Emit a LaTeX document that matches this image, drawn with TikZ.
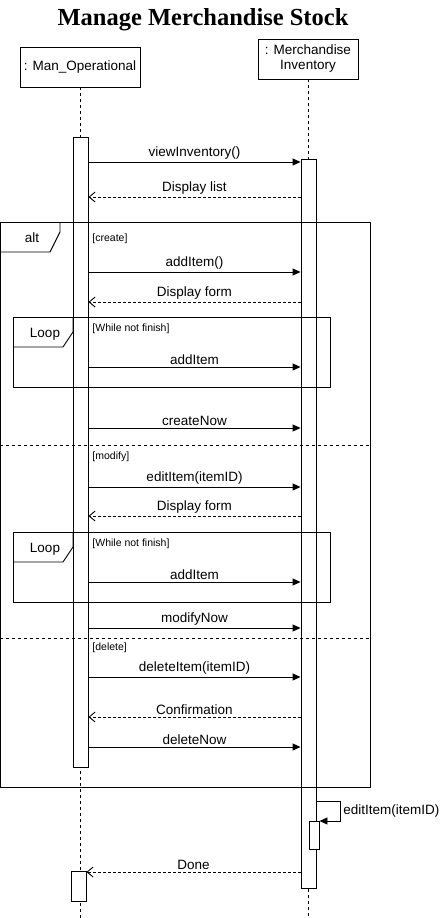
\documentclass[tikz,border=0pt]{standalone}
\usepackage{fontspec}
\setmainfont{Liberation Sans}
\newfontfamily\titlefont{Liberation Serif}
\usepackage{tikz}
\usetikzlibrary{arrows.meta}
\tikzset{actor/.style={draw,minimum height=40pt,inner sep=1pt,font=\fontsize{13.5}{15}\selectfont},
 lifeline/.style={dash pattern=on 3pt off 3pt},
 actbar/.style={draw,fill=white,minimum width=15pt,inner sep=0pt},
 call/.style={-{Triangle[length=8pt,width=7pt]}},
 reply/.style={dash pattern=on 3pt off 2pt,-{Straight Barb[length=6pt,width=10pt]}},
 msglabel/.style={above,inner sep=2pt,font=\fontsize{13.5}{15}\selectfont},
 guard/.style={anchor=west,inner sep=0pt,font=\fontsize{10.5}{12}\selectfont},
 tablabel/.style={font=\fontsize{13.5}{15}\selectfont},
 }

\begin{document}
\begin{tikzpicture}[x=1pt,y=-1pt,line width=0.9pt]
        \useasboundingbox (0,0) rectangle (444,918);
        \node[font=\titlefont\bfseries\fontsize{24.5}{28}\selectfont] (title) at (203,19.5) {Manage Merchandise Stock};
        \node[actor,minimum width=120pt] (man) at (80,67) {: Man\_Operational};
        \node[actor,minimum width=100pt,align=center] (inv) at (308,59) {: Merchandise\\Inventory};
        \coordinate (manend) at (80,918);
        \coordinate (invend) at (308,918);
        \draw[lifeline] (man.south) -- (manend);
        \draw[lifeline] (inv.south) -- (invend);
        % activations
        \node[actbar,minimum height=630pt] (barL) at (80.5,452) {};
        \node[actbar,minimum height=729pt] (barR) at (308.5,523.5) {};
        \node[actbar,minimum width=10pt,minimum height=28pt] (barS) at (314,835) {};
        \node[actbar,minimum height=30pt] (barD) at (78.5,886) {};
        % alt frame
        \draw (0,222) rectangle (370,787);
        \draw (0,252) -- (50,252) -- (60,232) -- (60,222);
        \node[tablabel] (alt) at (32,238) {alt};
        \draw[dashed] (0,445) -- (370,445);
        \draw[dashed] (0,638) -- (370,638);
        \node[guard] (gcreate) at (92,239) {[create]};
        \node[guard] (gmodify) at (92,457) {[modify]};
        \node[guard] (gdelete) at (92,648) {[delete]};
        \foreach \t/\n in {317/1, 532/2} {
            \draw (13,\t) rectangle (330,\t+70);
            \draw (13,\t+30) -- (63,\t+30) -- (73,\t+15) -- (73,\t);
            \node[tablabel] (loop\n) at (45,\t+17) {Loop};
            \node[guard] (gloop\n) at (92,\t+12) {[While not finish]};
        }
        % messages
        \foreach \y/\t in {162/viewInventory(), 272/addItem(), 367/addItem, 428/createNow,
                487/editItem(itemID), 582/addItem, 628/modifyNow, 677/deleteItem(itemID), 747/deleteNow} {
            \draw[call] (barL.east |- 0,\y) -- node[msglabel] {\t} (barR.west |- 0,\y);
        }
        \foreach \y/\t in {197/Display list, 302/Display form, 516/Display form, 717/Confirmation} {
            \draw[reply] (barR.west |- 0,\y) -- node[msglabel] {\t} (barL.east |- 0,\y);
        }
        \coordinate (selfa) at (340,801);
        \coordinate (selfb) at (340,821);
        \draw[call] (barR.east |- selfa) -- (selfa) -- (selfb) -- (barS.east |- selfb);
        \node[anchor=west,font=\fontsize{13.5}{15}\selectfont,inner sep=0pt] (selflabel) at (343,811) {editItem(itemID)};
        \draw[reply] (barR.west |- 0,872) -- node[msglabel] {Done} (barD.east |- 0,872);
    \end{tikzpicture}
\end{document}
